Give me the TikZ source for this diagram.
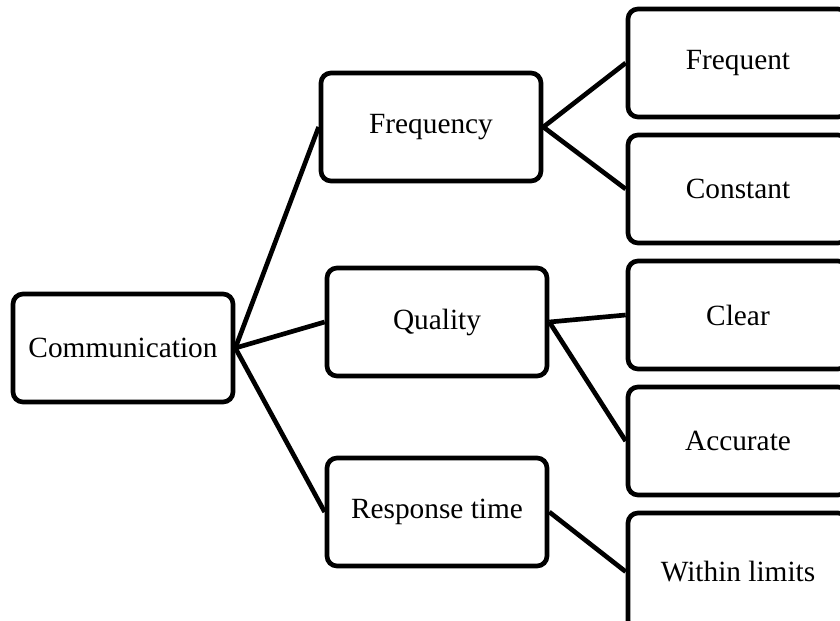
\documentclass[tikz,border=0pt]{standalone}
\usepackage{fontspec}
\setmainfont{Liberation Serif}
\usepackage{tikz}
\usetikzlibrary{positioning}

\begin{document}
\begin{tikzpicture}[
        node distance=10pt,
        box/.style={rectangle, draw=black, fill=white, line width=3.5pt, minimum width=165pt, minimum height=81pt, align=center, rounded corners=7.5pt, font=\fontsize{22}{26}\selectfont},
        link/.style={line width=3.5pt}
    ]
        \clip (0,0) rectangle (630pt,-465.75pt);

        \node[box] (COMM) at (92.25pt,-261pt) {Communication};
        \node[box] (FREQ) at (323.25pt,-95.25pt) {Frequency};
        \node[box] (QUAL) at (327.75pt,-241.5pt) {Quality};
        \node[box] (RESP) at (327.75pt,-384pt) {Response time};

        % Right column
        \node[box] (FRQT) at (553.5pt,-47.25pt) {Frequent};
        \node[box, below=of FRQT] (CONS) {Constant};
        \node[box, below=of CONS] (CLEAR) {Clear};
        \node[box, below=of CLEAR] (ACC) {Accurate};
        \node[box, below=of ACC, minimum height=88pt] (LIM) {Within limits};

        \draw[link] (COMM.east) -- (FREQ.west);
        \draw[link] (COMM.east) -- (QUAL.west);
        \draw[link] (COMM.east) -- (RESP.west);
        \draw[link] (FREQ.east) -- (FRQT.west);
        \draw[link] (FREQ.east) -- (CONS.west);
        \draw[link] (QUAL.east) -- (CLEAR.west);
        \draw[link] (QUAL.east) -- (ACC.west);
        \draw[link] (RESP.east) -- (LIM.west);
    \end{tikzpicture}
\end{document}
